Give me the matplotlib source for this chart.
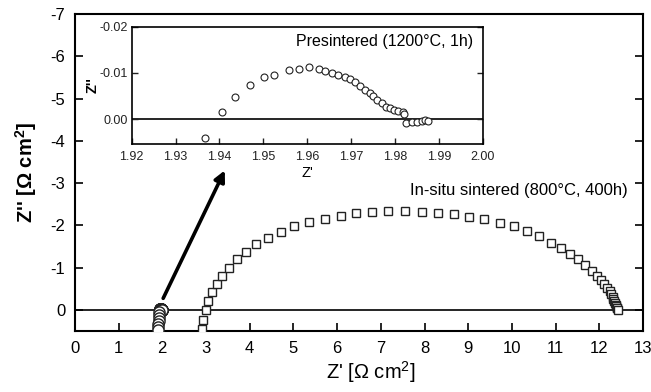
import matplotlib
matplotlib.use("Agg")
import matplotlib.pyplot as plt

plt.rcParams['font.family'] = ['Liberation Sans', 'DejaVu Sans']
plt.rcParams['axes.unicode_minus'] = False
plt.rcParams['mathtext.fontset'] = 'custom'
plt.rcParams['mathtext.rm'] = 'Liberation Sans'
plt.rcParams['mathtext.bf'] = 'Liberation Sans:bold'

# in-situ sintered cell (800 C, 400 h), Z' and Z'' in ohm cm2
insitu_re = [2.91, 2.94, 2.99, 3.05, 3.14, 3.24, 3.37, 3.52, 3.71, 3.91, 4.15, 4.41,
             4.71, 5.02, 5.36, 5.72, 6.08, 6.43, 6.80, 7.17, 7.56, 7.93, 8.30, 8.67,
             9.02, 9.37, 9.73, 10.05, 10.35, 10.62, 10.89, 11.11, 11.33, 11.50, 11.67,
             11.82, 11.94, 12.04, 12.11, 12.18, 12.23, 12.27, 12.30, 12.32, 12.34,
             12.36, 12.37, 12.38, 12.39, 12.40, 12.42]
insitu_im = [0.45, 0.24, 0.0, -0.20, -0.43, -0.61, -0.80, -1.00, -1.19, -1.36, -1.55,
             -1.69, -1.84, -1.98, -2.07, -2.14, -2.21, -2.28, -2.32, -2.34, -2.33,
             -2.32, -2.29, -2.26, -2.20, -2.14, -2.06, -1.98, -1.87, -1.74, -1.59,
             -1.45, -1.33, -1.19, -1.06, -0.92, -0.80, -0.70, -0.61, -0.52, -0.44,
             -0.37, -0.31, -0.25, -0.20, -0.15, -0.12, -0.08, -0.05, -0.03, 0.01]

# presintered cell (1200 C, 1 h)
pre_re = [1.9367, 1.9405, 1.9435, 1.9470, 1.9502, 1.9525, 1.9559, 1.9581, 1.9603,
          1.9627, 1.9641, 1.9656, 1.9671, 1.9686, 1.9698, 1.9709, 1.9720, 1.9732,
          1.9742, 1.9751, 1.9760, 1.9770, 1.9780, 1.9789, 1.9798, 1.9808, 1.9819,
          1.9821, 1.9825, 1.9838, 1.9850, 1.9861, 1.9868, 1.9876]
pre_im = [0.0041, -0.0015, -0.0047, -0.0074, -0.0091, -0.0096, -0.0107, -0.0108,
          -0.0112, -0.0108, -0.0103, -0.0099, -0.0096, -0.0092, -0.0087, -0.0080,
          -0.0072, -0.0063, -0.0056, -0.0049, -0.0041, -0.0034, -0.0027, -0.0023,
          -0.0020, -0.0017, -0.0015, -0.0010, 0.0008, 0.0007, 0.0007, 0.0005,
          0.0001, 0.0004]
# inductive tail of the presintered cell, only visible on the big plot
pre_tail_re = [1.93, 1.925, 1.92, 1.915, 1.91, 1.905, 1.90]
pre_tail_im = [0.06, 0.12, 0.19, 0.26, 0.33, 0.41, 0.49]

arrow_from = (2.02, -0.27)
arrow_to = (3.43, -3.30)

fig = plt.figure(figsize=(6.51, 3.92), dpi=100)
ax = fig.add_axes([0.115, 0.156, 0.873, 0.808])

ax.axhline(0, color='k', lw=1.2, zorder=1)
ax.plot(insitu_re, insitu_im, 's', ms=5.5, mfc='white', mec='#222222', mew=1.0,
        zorder=3)
ax.plot(pre_re + pre_tail_re, pre_im + pre_tail_im, 'o', ms=8, mfc='white',
        mec='#222222', mew=1.0, zorder=3)
ax.annotate('', xy=arrow_to, xytext=arrow_from,
            arrowprops=dict(arrowstyle='-|>', lw=2.6, color='k', mutation_scale=16,
                            shrinkA=0, shrinkB=0))
ax.text(12.65, -2.83, 'In-situ sintered (800°C, 400h)', ha='right', va='center',
        fontsize=12)

ax.set_xlim(0, 13)
ax.set_ylim(0.5, -7)
ax.set_xticks(range(0, 14))
ax.set_yticks([0, -1, -2, -3, -4, -5, -6, -7])
ax.tick_params(direction='in', length=6, width=1.2, labelsize=12, pad=7,
               right=True, top=False)
for s in ax.spines.values():
    s.set_linewidth(1.5)
ax.set_xlabel("Z' [Ω cm$^2$]", fontsize=14.5)
ax.xaxis.set_label_coords(0.52, -0.088)
ax.set_ylabel("Z'' [Ω cm$^\\mathbf{2}$]", fontsize=14.5, fontweight='bold', labelpad=8)

# inset
axi = fig.add_axes([0.2023, 0.6327, 0.5392, 0.2992])
axi.axhline(0, color='k', lw=1.2, zorder=1)
axi.plot(pre_re, pre_im, 'o', ms=5, mfc='white', mec='#222222', mew=0.8, zorder=3)
axi.set_xlim(1.92, 2.00)
axi.set_ylim(0.0054, -0.02)
axi.set_xticks([1.92, 1.93, 1.94, 1.95, 1.96, 1.97, 1.98, 1.99, 2.00])
axi.set_yticks([0.0, -0.01, -0.02])
axi.set_yticklabels(['0.00', '-0.01', '-0.02'])
axi.tick_params(direction='in', length=4, width=1.0, labelsize=9, pad=5,
                right=True, top=False, colors='#222222')
axi.tick_params(axis='y', pad=3)
for s in axi.spines.values():
    s.set_linewidth(1.2)
axi.text(0.972, 0.872, 'Presintered (1200°C, 1h)', transform=axi.transAxes,
         ha='right', va='center', fontsize=11.5)
axi.set_xlabel("Z'", fontsize=10.5, labelpad=2)
axi.set_ylabel("Z''", fontsize=10.5, fontweight='bold', labelpad=0)

fig.savefig('out.png', dpi=100)
